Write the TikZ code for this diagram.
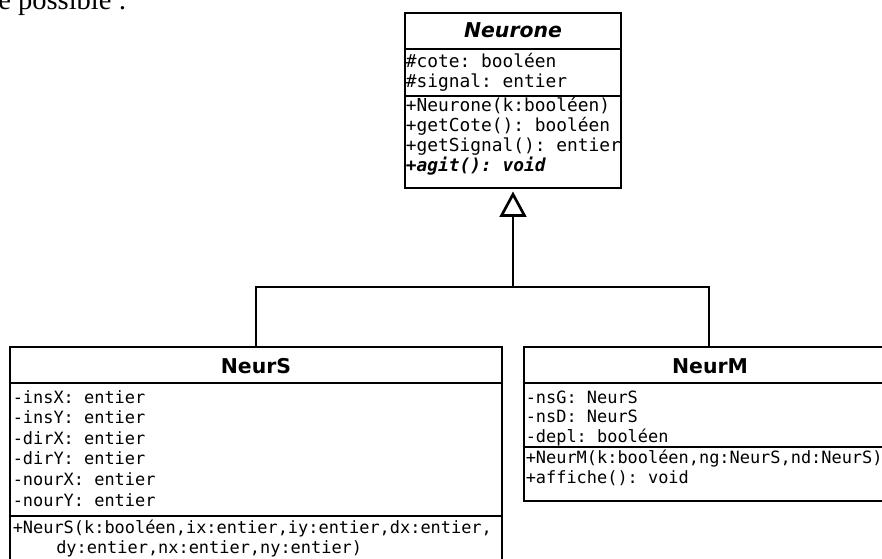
\documentclass[tikz,border=0pt]{standalone}
\usepackage{fontspec}
\newfontfamily\umlsans{DejaVu Sans}
\newfontfamily\umlmono{DejaVu Sans Mono}
\newfontfamily\docserif{Liberation Serif}
\usetikzlibrary{arrows.meta,fit}
\frenchspacing

\begin{document}
\begin{tikzpicture}[x=0.75pt,y=0.75pt,yscale=-1,xscale=1,
	classbox/.style={draw, line width=2.2pt, inner sep=0pt},
	sepline/.style={line width=2.2pt},
	classtitle/.style={inner sep=0pt, anchor=base, font=\umlsans\bfseries\fontsize{15.3}{18}\selectfont},
	membig/.style={inner sep=0pt, anchor=base west, font=\umlmono\fontsize{13.4}{16}\selectfont},
	memsmall/.style={inner sep=0pt, anchor=base west, font=\umlmono\fontsize{12.7}{15}\selectfont},
	inherit/.style={line width=2pt}]
		
		\useasboundingbox (0,0) rectangle (882,558);
		\clip (0,0) rectangle (882,558);
		
		% Text box: end of the sentence above
		\node [inner sep=0pt, anchor=base west, font=\docserif\fontsize{21.4}{25}\selectfont] (intro) at (-2,9) {e possible :};
		
		% Shape: class Neurone
		\coordinate (neurone-nw) at (405,13);
		\coordinate (neurone-se) at (621,188);
		\node [classbox, fit=(neurone-nw)(neurone-se)] (neurone) {};
		\foreach \y in {49,96}
			\draw [sepline] (neurone.west |- 0,\y) -- (neurone.east |- 0,\y);
		\node [classtitle, font=\umlsans\bfseries\itshape\fontsize{15.3}{18}\selectfont] (neurone-title) at (513,37) {Neurone};
		\foreach \txt [count=\i from 0] in {{\#cote: booléen}, {\#signal: entier}}
			\node [membig] (neurone-attr\i) at (405.5,67.5+19.5*\i) {\txt};
		\foreach \txt [count=\i from 0] in {{+Neurone(k:booléen)}, {+getCote(): booléen}, {+getSignal(): entier}, {\bfseries\itshape +agit(): void}}
			\node [membig] (neurone-meth\i) at (405.5,111+20*\i) {\txt};
		
		% Shape: class NeurS
		\coordinate (neurs-nw) at (10,347);
		\coordinate (neurs-se) at (502,630);
		\node [classbox, fit=(neurs-nw)(neurs-se)] (neurs) {};
		\foreach \y in {383,516}
			\draw [sepline] (neurs.west |- 0,\y) -- (neurs.east |- 0,\y);
		\node [classtitle] (neurs-title) at (256,373) {NeurS};
		\foreach \txt [count=\i from 0] in {{-insX: entier}, {-insY: entier}, {-dirX: entier}, {-dirY: entier}, {-nourX: entier}, {-nourY: entier}}
			\node [memsmall] (neurs-attr\i) at (12.5,403+20.6*\i) {\txt};
		\node [memsmall] (neurs-meth0) at (12.5,533) {+NeurS(k:booléen,ix:entier,iy:entier,dx:entier,};
		\node [memsmall] (neurs-meth1) at (56,553.6) {dy:entier,nx:entier,ny:entier)};
		
		% Shape: class NeurM
		\coordinate (neurm-nw) at (524,347);
		\coordinate (neurm-se) at (894,501);
		\node [classbox, fit=(neurm-nw)(neurm-se)] (neurm) {};
		\foreach \y in {383,447}
			\draw [sepline] (neurm.west |- 0,\y) -- (neurm.east |- 0,\y);
		\node [classtitle] (neurm-title) at (710,373) {NeurM};
		\foreach \txt [count=\i from 0] in {{-nsG: NeurS}, {-nsD: NeurS}, {-depl: booléen}}
			\node [memsmall] (neurm-attr\i) at (525.5,403+19.8*\i) {\txt};
		\foreach \txt [count=\i from 0] in {{+NeurM(k:booléen,ng:NeurS,nd:NeurS)}, {+affiche(): void}}
			\node [memsmall] (neurm-meth\i) at (525.5,463+20*\i) {\txt};
		
		% Connector: inheritance
		\coordinate (junction) at (neurone.south |- 0,287);
		\draw [inherit] (neurs.north) |- (junction) -| (neurm.north);
		\draw [inherit, -{Triangle[open, length=19pt, width=20pt]}, shorten >=1.5pt] (junction) -- (neurone.south);
		
	\end{tikzpicture}
\end{document}
